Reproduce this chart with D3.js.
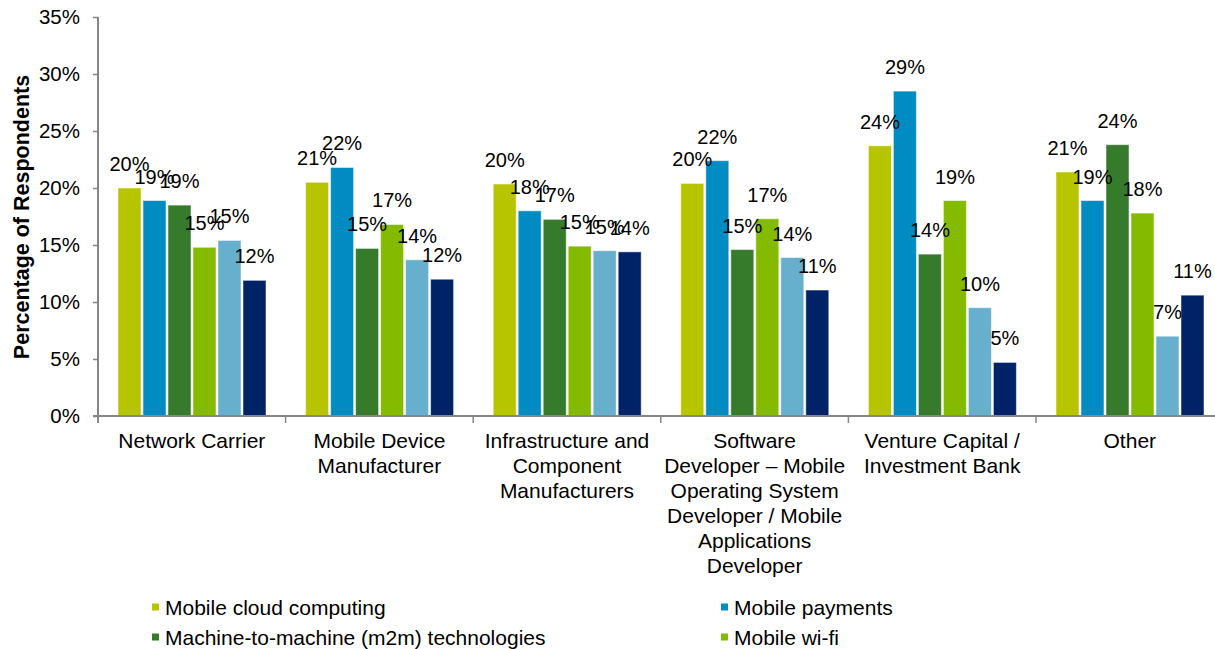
<!DOCTYPE html>
<html><head><meta charset="utf-8">
<script src="https://cdn.jsdelivr.net/npm/d3@7"></script>
<style>body{margin:0;background:#fff;overflow:hidden} text{font-family:"Liberation Sans",Arial,sans-serif;fill:#000}</style>
</head><body><svg id="c" width="1215" height="649"></svg>
<script>
const categories = [
  "Network Carrier",
  "Mobile Device\nManufacturer",
  "Infrastructure and\nComponent\nManufacturers",
  "Software\nDeveloper – Mobile\nOperating System\nDeveloper / Mobile\nApplications\nDeveloper",
  "Venture Capital /\nInvestment Bank",
  "Other"
];
const seriesNames = [
  "Mobile cloud computing",
  "Mobile payments",
  "Machine-to-machine (m2m) technologies",
  "Mobile wi-fi",
  "Series 5",
  "Series 6"
];
const cloudValues    = [20.0, 20.5, 20.35, 20.4, 23.7, 21.4];
const paymentValues  = [18.9, 21.8, 18.0, 22.4, 28.5, 18.9];
const m2mValues      = [18.5, 14.7, 17.25, 14.6, 14.2, 23.8];
const wifiValues     = [14.8, 16.8, 14.9, 17.3, 18.9, 17.8];
const series5Values  = [15.4, 13.7, 14.5, 13.9, 9.5, 7.0];
const series6Values  = [11.9, 12.0, 14.4, 11.05, 4.7, 10.6];
const yTicks = [0, 5, 10, 15, 20, 25, 30, 35];
const visibleLegendCount = 4;

const seriesValues = [cloudValues, paymentValues, m2mValues, wifiValues, series5Values, series6Values];
const colors = ["#B7C400", "#008CC3", "#367A2C", "#84BA00", "#66AFCD", "#002266"];

const svg = d3.select("#c");
const plotLeft = 98, plotBottom = 416, plotTop = 17, catW = 187.6;

const y = d3.scaleLinear().domain([0, 35]).range([plotBottom, plotTop]);
const x0 = d3.scaleBand().domain(categories).range([plotLeft, plotLeft + catW * categories.length]).padding(0);
const x1 = d3.scaleBand().domain(seriesNames).range([20, 168]).paddingInner(0.08).paddingOuter(0);

// bars
const groups = svg.append("g").selectAll("g").data(categories).join("g")
  .attr("transform", c => `translate(${x0(c)},0)`);

groups.selectAll("rect")
  .data((c, ci) => seriesNames.map((s, si) => ({s, si, v: seriesValues[si][ci]})))
  .join("rect")
  .attr("x", d => x1(d.s))
  .attr("width", x1.bandwidth())
  .attr("y", d => y(d.v))
  .attr("height", d => y(0) - y(d.v))
  .attr("fill", d => colors[d.si])
  .attr("stroke", "#fff").attr("stroke-opacity", 0.5).attr("stroke-width", 1);

// y axis
const yAxis = svg.append("g").attr("transform", `translate(${plotLeft},0)`)
  .call(d3.axisLeft(y).tickValues(yTicks).tickSize(5).tickSizeOuter(0).tickPadding(13).tickFormat(d => d + "%"));
yAxis.selectAll("text").style("font-size", "20.5px").attr("fill", "#000");
yAxis.selectAll("line").attr("stroke", "#868686").attr("stroke-width", 1.5);
yAxis.select(".domain").attr("stroke", "#868686").attr("stroke-width", 2).attr("d", `M0,${plotTop}V${plotBottom + 7}`);

// x axis line + boundary ticks
svg.append("line").attr("x1", plotLeft - 5).attr("x2", 1215).attr("y1", plotBottom).attr("y2", plotBottom)
  .attr("stroke", "#868686").attr("stroke-width", 2);
svg.append("g").selectAll("line").data(categories.slice(1)).join("line")
  .attr("x1", c => x0(c)).attr("x2", c => x0(c))
  .attr("y1", plotBottom).attr("y2", plotBottom + 7)
  .attr("stroke", "#868686").attr("stroke-width", 1.5);

// category labels
svg.append("g").selectAll("text").data(categories).join("text")
  .attr("text-anchor", "middle")
  .style("font-size", "21px")
  .each(function(c) {
    const t = d3.select(this);
    c.split("\n").forEach((line, i) => {
      t.append("tspan").attr("x", x0(c) + x0.bandwidth() / 2).attr("y", 448 + i * 25).text(line);
    });
  });

// data labels
groups.selectAll("text.lbl")
  .data((c, ci) => seriesNames.map((s, si) => ({s, si, v: seriesValues[si][ci]})))
  .join("text").attr("class", "lbl")
  .attr("x", d => x1(d.s) + x1.bandwidth() / 2)
  .attr("y", d => y(d.v) - 17)
  .attr("text-anchor", "middle")
  .style("font-size", "20px")
  .text(d => Math.round(d.v) + "%");

// y title
svg.append("text")
  .attr("transform", "translate(22,217) rotate(-90)")
  .attr("text-anchor", "middle").attr("dominant-baseline", "central")
  .style("font-size", "21.5px").style("font-weight", "bold")
  .text("Percentage of Respondents");

// legend (only the rows that fit inside the picture)
const legX = [152, 721], legY0 = 607, legDY = 30;
const leg = svg.append("g").selectAll("g").data(seriesNames.slice(0, visibleLegendCount)).join("g")
  .attr("transform", (d, i) => `translate(${legX[i % 2]},${legY0 + Math.floor(i / 2) * legDY})`);
leg.append("rect").attr("x", 0).attr("y", -3.5).attr("width", 7).attr("height", 7)
  .attr("fill", (d, i) => colors[i]);
leg.append("text").attr("x", 13).attr("y", 0).attr("dominant-baseline", "central")
  .style("font-size", "21px").text(d => d);
</script></body></html>
